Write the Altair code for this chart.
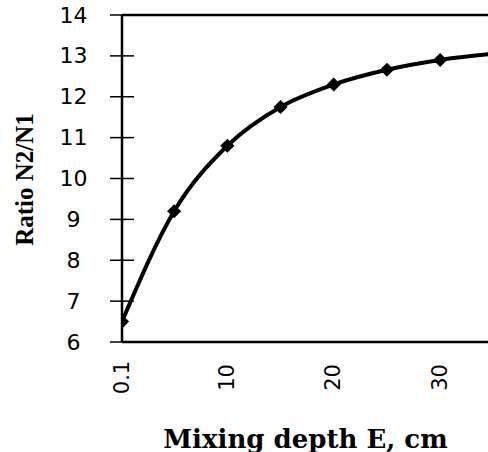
import altair as alt
import pandas as pd

depth = [0.1, 5, 10, 15, 20, 25, 30, 35]
ratio = [6.5, 9.2, 10.8, 11.75, 12.3, 12.66, 12.9, 13.05]
x_ticks = [0.1, 10, 20, 30]
y_ticks = [6, 7, 8, 9, 10, 11, 12, 13, 14]
h_lines = [6, 14]
v_lines = [0.1]

df = pd.DataFrame({"depth": depth, "ratio": ratio})
ticks_df = pd.DataFrame({"y": y_ticks, "x": [v_lines[0]] * len(y_ticks)})
xscale = alt.Scale(domain=[0.1, 34.5], nice=False, zero=False)
yscale = alt.Scale(domain=[6, 14], nice=False, zero=False)

x_axis = alt.Axis(values=x_ticks, labelExpr="'' + datum.value", title="Mixing depth E, cm")
y_axis = alt.Axis(values=y_ticks, title="Ratio N2/N1")

base = alt.Chart(df)
line = base.mark_line(color="black", strokeWidth=4, interpolate="monotone", clip=True).encode(
    x=alt.X("depth:Q", scale=xscale, axis=x_axis),
    y=alt.Y("ratio:Q", scale=yscale, axis=y_axis),
)
pts = base.mark_point(shape="diamond", filled=True, size=200, color="black", opacity=1, clip=True).encode(
    x=alt.X("depth:Q", scale=xscale, axis=x_axis),
    y=alt.Y("ratio:Q", scale=yscale, axis=y_axis),
)
hr = alt.Chart(pd.DataFrame({"v": h_lines})).mark_rule(color="black", strokeWidth=2.5).encode(
    y=alt.Y("v:Q", scale=yscale, axis=y_axis)
)
vr = alt.Chart(pd.DataFrame({"v": v_lines})).mark_rule(color="black", strokeWidth=2.5).encode(
    x=alt.X("v:Q", scale=xscale, axis=x_axis)
)
yt = alt.Chart(ticks_df).mark_tick(orient="horizontal", size=24, thickness=1.5, color="black", opacity=1).encode(
    x=alt.X("x:Q", scale=xscale, axis=x_axis),
    y=alt.Y("y:Q", scale=yscale, axis=y_axis),
)

chart = alt.layer(line, pts, hr, vr, yt).properties(
    width=366, height=327,
    autosize=alt.AutoSizeParams(type="none"),
    padding={"left": 122, "top": 15, "right": 0, "bottom": 110},
    background="white",
).configure_view(stroke=None).configure_axisX(
    labelAngle=-90, labelAlign="center", labelBaseline="middle",
    labelPadding=35, ticks=False, tickSize=0, domain=False, grid=False,
    labelFont="DejaVu Sans", labelFontSize=21, labelColor="black",
    titleFont="DejaVu Serif", titleFontWeight="bold", titleFontSize=26,
    titleColor="black", titleY=105, titleBaseline="alphabetic",
).configure_axisY(
    ticks=False, tickSize=0, domain=False, grid=False,
    labelAlign="center", labelBaseline="middle", labelPadding=49,
    labelFont="DejaVu Sans", labelFontSize=22, labelColor="black",
    titleFont="Liberation Serif", titleFontWeight="bold", titleFontSize=25,
    titleColor="black", titleX=-98, titleY=164, titleAngle=-90,
    titleAlign="center", titleBaseline="middle",
)

chart.save("out.html", embed_options={"renderer": "svg", "actions": False})
